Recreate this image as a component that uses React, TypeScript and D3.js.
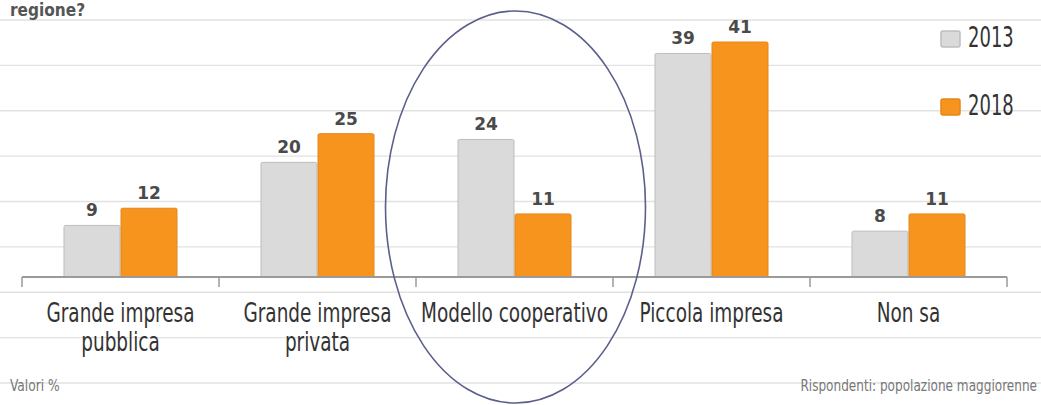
import React from "react";
import * as d3 from "d3";

const categories: string[][] = [
  ["Grande impresa", "pubblica"],
  ["Grande impresa", "privata"],
  ["Modello cooperativo"],
  ["Piccola impresa"],
  ["Non sa"],
];
const seriesNames = ["2013", "2018"];
const values2013 = [9, 20, 24, 39, 8];
const values2018 = [12, 25, 11, 41, 11];
const gridTicks = [0, 1, 2, 3, 4, 5, 6, 7, 8];
const titleText = "regione?";
const footLeft = "Valori %";
const footRight = "Rispondenti: popolazione maggiorenne";

const W = 1041;
const H = 405;
const COLORS: Record<string, { fill: string; stroke: string }> = {
  "2013": { fill: "#dadada", stroke: "#bdbdbd" },
  "2018": { fill: "#f7941d", stroke: "#e3861a" },
};
const NARROW = "'Liberation Sans Narrow', 'Arial Narrow', 'DejaVu Sans Condensed', sans-serif";

export default function App() {
  const keys = categories.map((c) => c.join(" "));
  const x0 = d3.scaleBand<string>().domain(keys).range([22, 1007]).padding(0);
  const x1 = d3
    .scaleBand<string>()
    .domain(seriesNames)
    .range([0, x0.bandwidth()])
    .paddingInner(0)
    .paddingOuter(0.728);
  const y = d3.scaleLinear().domain([0, 41]).range([277, 42]);
  const gridY = d3.scaleLinear().domain([0, 8]).range([20, 383]);
  const seriesValues: Record<string, number[]> = { "2013": values2013, "2018": values2018 };
  const baseY = y(0);

  const ellCx = (x0(keys[2]) ?? 0) + x0.bandwidth() / 2 + 1;

  return (
    <svg width={W} height={H} style={{ position: "absolute", left: 0, top: 0, background: "#fff" }}>
      <rect x={0} y={0} width={W} height={H} fill="#fff" />
      {/* grid */}
      {gridTicks.map((t) => (
        <line key={t} x1={0} x2={W} y1={gridY(t)} y2={gridY(t)} stroke="#e2e2e2" strokeWidth={1.3} />
      ))}
      {/* title fragment */}
      <g transform="translate(10,15.5) scale(0.95,1)">
        <text x={0} y={0} fontFamily={NARROW} fontSize={18} fontWeight={700} fill="#555">
          {titleText}
        </text>
      </g>
      {/* bars */}
      {keys.map((k, i) => (
        <g key={k} transform={`translate(${x0(k)},0)`}>
          {seriesNames.map((s) => {
            const v = seriesValues[s][i];
            const bx = x1(s) ?? 0;
            return (
              <g key={s}>
                <rect
                  x={bx + 0.5}
                  y={y(v)}
                  width={x1.bandwidth() - 1}
                  height={baseY - y(v)}
                  fill={COLORS[s].fill}
                  stroke={COLORS[s].stroke}
                  strokeWidth={1}
                  rx={1.5}
                />
                <text
                  x={bx + x1.bandwidth() / 2}
                  y={y(v) - 9}
                  textAnchor="middle"
                  fontFamily="'DejaVu Sans', sans-serif"
                  fontWeight={700}
                  fontSize={17}
                  fill="#4a4a4a"
                >
                  {v}
                </text>
              </g>
            );
          })}
        </g>
      ))}
      {/* axis */}
      <line x1={22} x2={1007} y1={baseY} y2={baseY} stroke="#9a9a9a" strokeWidth={2} />
      {[...keys.map((k) => x0(k) ?? 0), 1007].map((tx, i) => (
        <line key={i} x1={tx} x2={tx} y1={baseY} y2={baseY + 10} stroke="#9a9a9a" strokeWidth={1.5} />
      ))}
      {/* category labels */}
      {keys.map((k, i) => {
        const cx = (x0(k) ?? 0) + x0.bandwidth() / 2;
        return (
          <g key={k} transform={`translate(${cx},0) scale(0.76,1)`}>
            {categories[i].map((line, j) => (
              <text
                key={j}
                x={0}
                y={322 + j * 29}
                textAnchor="middle"
                fontFamily={NARROW}
                fontSize={27}
                fill="#333"
              >
                {line}
              </text>
            ))}
          </g>
        );
      })}
      {/* legend */}
      {seriesNames.map((s, i) => (
        <g key={s} transform={`translate(941,${31 + i * 68})`}>
          <rect x={0} y={0} width={19} height={16} rx={2} fill={COLORS[s].fill} stroke={COLORS[s].stroke} strokeWidth={1.5} />
          <g transform="translate(27,16) scale(0.69,1)">
            <text x={0} y={0} fontFamily={NARROW} fontSize={29} fill="#333">
              {s}
            </text>
          </g>
        </g>
      ))}
      {/* footer */}
      <g transform="translate(10,391) scale(0.85,1)">
        <text x={0} y={0} fontFamily={NARROW} fontSize={16} fill="#777">
          {footLeft}
        </text>
      </g>
      <g transform="translate(1037,391) scale(0.84,1)">
        <text x={0} y={0} textAnchor="end" fontFamily={NARROW} fontSize={16} fill="#777">
          {footRight}
        </text>
      </g>
      {/* annotation ellipse */}
      <ellipse cx={ellCx} cy={207} rx={130} ry={196} fill="none" stroke="#5b5f8c" strokeWidth={1.6} />
    </svg>
  );
}
